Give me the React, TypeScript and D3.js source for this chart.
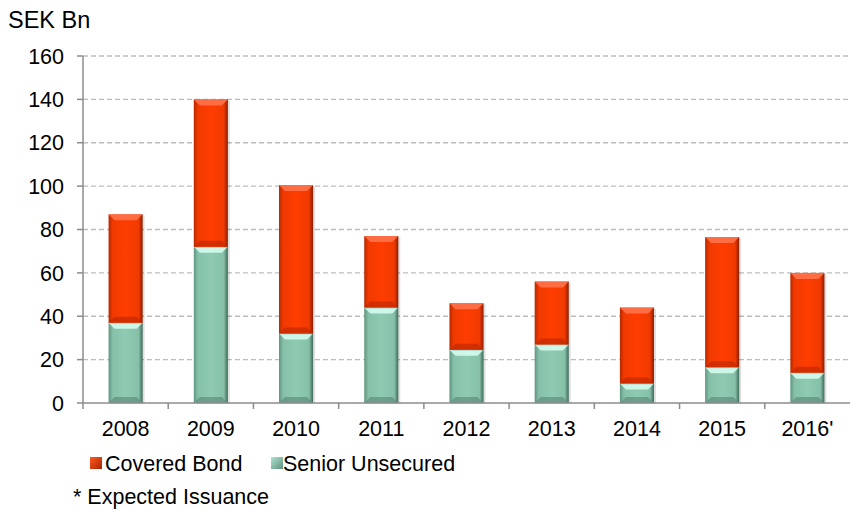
import React from "react";
import * as d3 from "d3";

const categories = ["2008", "2009", "2010", "2011", "2012", "2013", "2014", "2015", "2016'"];
const seniorUnsecured = [37, 72, 32, 44, 24.5, 27, 9, 16.5, 14];
const coveredBond = [50, 68, 68.5, 33, 21.5, 29, 35, 60, 46];
const yTicks = [0, 20, 40, 60, 80, 100, 120, 140, 160];

const W = 850;
const H = 509;
const M = { left: 83, right: 0, top: 56, bottom: 106 };
const FONT = "'Liberation Sans', Arial, sans-serif";
const FS = 21.5;

function Bar({ x, w, y0, y1, kind }: { x: number; w: number; y0: number; y1: number; kind: "c" | "s" }) {
  const h = y0 - y1;
  const bev = Math.min(6, h / 3);
  const topFill = kind === "c" ? "#ff7650" : "#d9fff3";
  const botFill = kind === "c" ? "#c22a00" : "#5e8f7c";
  return (
    <g>
      <rect x={x + 2} y={y1 + 1} width={w} height={h} fill="#000" opacity={0.12} />
      <rect x={x} y={y1} width={w} height={h} fill={`url(#grad-${kind})`} />
      <polygon
        points={`${x},${y1} ${x + w},${y1} ${x + w - bev},${y1 + bev} ${x + bev},${y1 + bev}`}
        fill={topFill}
        opacity={0.85}
      />
      <polygon
        points={`${x},${y0} ${x + w},${y0} ${x + w - bev},${y0 - bev} ${x + bev},${y0 - bev}`}
        fill={botFill}
        opacity={0.7}
      />
    </g>
  );
}

export default function App() {
  const x = d3.scaleBand().domain(categories).range([M.left, W - M.right]).paddingInner(0.6).paddingOuter(0.3);
  const xb = d3.scaleBand().domain(categories).range([M.left, W - M.right]);
  const y = d3.scaleLinear().domain([0, 160]).range([H - M.bottom, M.top]);
  const bw = x.bandwidth();
  const bx = (c: string) => (xb(c) as number) + xb.bandwidth() / 2 - bw / 2;

  return (
    <svg width={W} height={H} style={{ position: "absolute", left: 0, top: 0, background: "#fff" }} fontFamily={FONT}>
      <defs>
        <linearGradient id="grad-c" x1="0" x2="1" y1="0" y2="0">
          <stop offset="0" stopColor="#b82800" />
          <stop offset="0.12" stopColor="#f03a00" />
          <stop offset="0.5" stopColor="#ff3d00" />
          <stop offset="0.88" stopColor="#f03a00" />
          <stop offset="1" stopColor="#8a1e00" />
        </linearGradient>
        <linearGradient id="grad-s" x1="0" x2="1" y1="0" y2="0">
          <stop offset="0" stopColor="#5f9580" />
          <stop offset="0.12" stopColor="#86c0a8" />
          <stop offset="0.5" stopColor="#8ecbb2" />
          <stop offset="0.88" stopColor="#86c0a8" />
          <stop offset="1" stopColor="#3f6a5a" />
        </linearGradient>
        <linearGradient id="leg-c" x1="0" x2="1" y1="0" y2="1">
          <stop offset="0" stopColor="#ff5a20" />
          <stop offset="1" stopColor="#a82400" />
        </linearGradient>
        <linearGradient id="leg-s" x1="0" x2="1" y1="0" y2="1">
          <stop offset="0" stopColor="#b0e6d2" />
          <stop offset="1" stopColor="#5e8f7c" />
        </linearGradient>
      </defs>

      <text x={8} y={28} fontSize={23.5} fill="#000">SEK Bn</text>

      {yTicks.map((t) => (
        <g key={t}>
          {t > 0 && (
            <line x1={M.left} x2={W} y1={y(t)} y2={y(t)} stroke="#bdbdbd" strokeWidth={1.3} strokeDasharray="5,3" />
          )}
          <line x1={M.left - 6} x2={M.left} y1={y(t)} y2={y(t)} stroke="#8c8c8c" strokeWidth={1.5} />
          <text x={64} y={y(t)} dy="0.36em" textAnchor="end" fontSize={FS} fill="#000">{t}</text>
        </g>
      ))}

      {categories.map((c, i) => {
        const s = seniorUnsecured[i];
        const cv = coveredBond[i];
        const xx = bx(c);
        return (
          <g key={c}>
            <Bar x={xx} w={bw} y0={y(0)} y1={y(s)} kind="s" />
            <Bar x={xx} w={bw} y0={y(s)} y1={y(s + cv)} kind="c" />
          </g>
        );
      })}

      <line x1={M.left} x2={M.left} y1={M.top} y2={y(0)} stroke="#8c8c8c" strokeWidth={1.5} />
      <line x1={M.left} x2={W} y1={y(0)} y2={y(0)} stroke="#8c8c8c" strokeWidth={1.5} />
      {categories.map((c) => (
        <line key={"t" + c} x1={xb(c) as number} x2={xb(c) as number} y1={y(0)} y2={y(0) + 6} stroke="#8c8c8c" strokeWidth={1.5} />
      ))}
      {categories.map((c) => (
        <text key={"l" + c} x={(xb(c) as number) + xb.bandwidth() / 2} y={y(0) + 33} textAnchor="middle" fontSize={FS} fill="#000">
          {c}
        </text>
      ))}

      <rect x={90} y={457} width={12} height={12} fill="url(#leg-c)" />
      <text x={105} y={471} fontSize={FS} fill="#000">Covered Bond</text>
      <rect x={271} y={457} width={12} height={12} fill="url(#leg-s)" />
      <text x={283} y={471} fontSize={FS} fill="#000">Senior Unsecured</text>

      <text x={73} y={504} fontSize={FS} fill="#000">* Expected Issuance</text>
    </svg>
  );
}
